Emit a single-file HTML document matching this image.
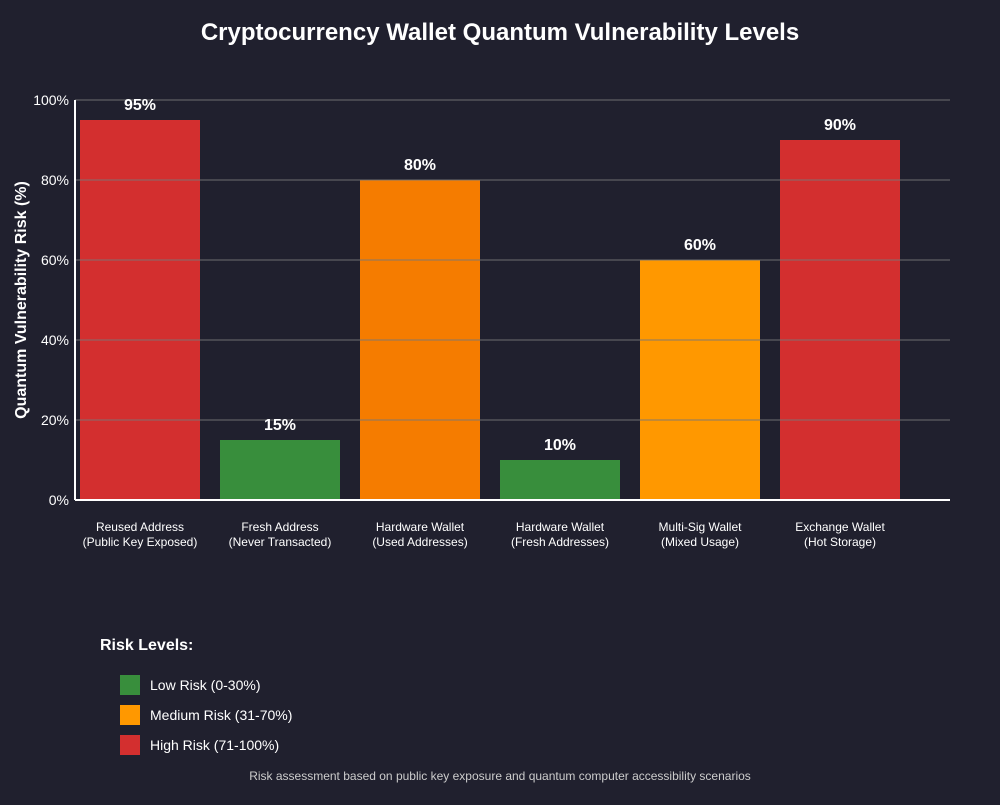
<!DOCTYPE html>
<html><head><meta charset="utf-8"><style>
body{margin:0;background:#20202e;width:1000px;height:800px;overflow:hidden;font-family:"Liberation Sans",sans-serif}
</style></head><body>
<svg id="chart" width="1000" height="800" xmlns="http://www.w3.org/2000/svg">
<rect width="1000" height="800" fill="#20202e"/>
<text x="500" y="40" text-anchor="middle" fill="#fff" font-size="24" font-weight="bold">Cryptocurrency Wallet Quantum Vulnerability Levels</text>
<text transform="translate(26,300) rotate(-90)" text-anchor="middle" fill="#fff" font-size="16" font-weight="bold">Quantum Vulnerability Risk (%)</text>
<g id="bars"></g><g id="grid"></g><g id="labels"></g>
<line x1="75" y1="100" x2="75" y2="500" stroke="#fff" stroke-width="2"/>
<line x1="75" y1="500" x2="950" y2="500" stroke="#fff" stroke-width="2"/>
<text x="100" y="650" fill="#fff" font-size="16" font-weight="bold">Risk Levels:</text>
<g><rect x="120" y="675" width="20" height="20" fill="#388e3c"/><text x="150" y="690" fill="#fff" font-size="14">Low Risk (0-30%)</text></g>
<g><rect x="120" y="705" width="20" height="20" fill="#ff9800"/><text x="150" y="720" fill="#fff" font-size="14">Medium Risk (31-70%)</text></g>
<g><rect x="120" y="735" width="20" height="20" fill="#d32f2f"/><text x="150" y="750" fill="#fff" font-size="14">High Risk (71-100%)</text></g>
<text x="500" y="780" text-anchor="middle" fill="#ccc" font-size="12">Risk assessment based on public key exposure and quantum computer accessibility scenarios</text>
</svg>
<script>
const categories1=["Reused Address","Fresh Address","Hardware Wallet","Hardware Wallet","Multi-Sig Wallet","Exchange Wallet"];
const categories2=["(Public Key Exposed)","(Never Transacted)","(Used Addresses)","(Fresh Addresses)","(Mixed Usage)","(Hot Storage)"];
const values=[95,15,80,10,60,90];
const colors=["#d32f2f","#388e3c","#f57c00","#388e3c","#ff9800","#d32f2f"];
const ticks=[0,20,40,60,80,100];
const NS="http://www.w3.org/2000/svg";
const y=v=>500-v*4, x=i=>80+i*140;
function mk(t,a,p){const e=document.createElementNS(NS,t);for(const k in a)e.setAttribute(k,a[k]);p.appendChild(e);return e;}
const B=document.getElementById('bars'),G=document.getElementById('grid'),L=document.getElementById('labels');
values.forEach((v,i)=>{
 const r=mk('rect',{x:x(i),y:y(v),width:120,height:v*4,fill:colors[i]},B);
 
 
 const t=mk('text',{x:x(i)+60,y:y(v)-10,'text-anchor':'middle',fill:'#fff','font-size':16,'font-weight':'bold'},L);t.textContent=v+'%';
 
 
 const c=mk('text',{x:x(i)+60,y:531,'text-anchor':'middle',fill:'#fff','font-size':12},L);
 
 
 const s1=mk('tspan',{x:x(i)+60},c);s1.textContent=categories1[i];
 const s2=mk('tspan',{x:x(i)+60,dy:15},c);s2.textContent=categories2[i];
});
ticks.forEach(t=>{
 if(t>0){const l=mk('line',{x1:75,x2:950,y1:y(t),y2:y(t),stroke:'rgba(120,120,120,0.45)','stroke-width':2},G);
 
 }
 const tx=mk('text',{x:69,y:y(t)+5,'text-anchor':'end',fill:'#fff','font-size':14},L);tx.textContent=t+'%';
 
 
});
</script>
</body></html>
